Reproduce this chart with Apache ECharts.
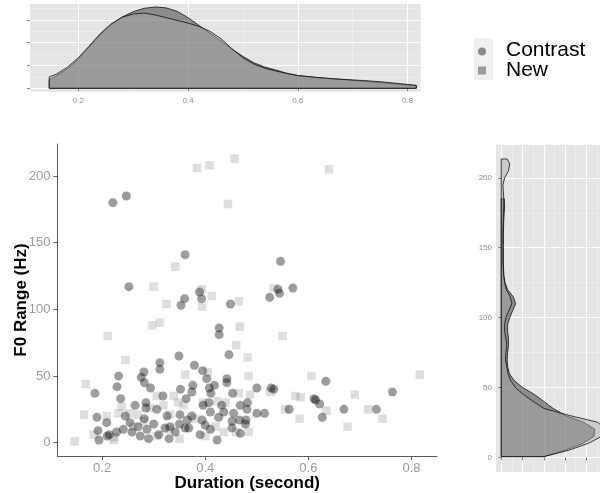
<!DOCTYPE html>
<html><head><meta charset="utf-8">
<script src="https://cdn.jsdelivr.net/npm/echarts@6/dist/echarts.min.js"></script>
<style>html,body{margin:0;padding:0;background:#fff}#c{width:600px;height:493px}</style>
</head><body><div id="c"></div>
<script>
// ---------- data ----------
const contrastPoints = [
 [0.221,180],[0.247,185],[0.361,141],[0.252,117],[0.360,108],[0.353,103],[0.389,113],[0.393,108],
 [0.449,104],[0.427,86],[0.427,81],[0.446,66],[0.349,65],[0.312,60],[0.379,58],[0.546,136],
 [0.541,115],[0.544,112],[0.570,116],[0.525,109],[0.186,37],[0.190,19],[0.192,9],[0.194,2],
 [0.209,15],[0.210,5],[0.229,42],[0.232,50],[0.236,33],[0.241,10],[0.264,28],[0.276,49],
 [0.281,53],[0.282,45],[0.294,41],[0.285,30],[0.285,26],[0.312,55],[0.318,35],[0.352,40],
 [0.363,33],[0.376,43],[0.395,54],[0.403,48],[0.408,41],[0.396,28],[0.411,37],[0.423,2],
 [0.442,48],[0.214,6],[0.228,8],[0.254,15],[0.258,8],[0.274,5],[0.287,10],[0.306,25],
 [0.326,20],[0.322,11],[0.332,12],[0.342,8],[0.351,21],[0.361,11],[0.365,17],[0.374,38],
 [0.418,43],[0.442,45],[0.453,37],[0.500,41],[0.528,41],[0.533,40],[0.563,25],[0.611,33],
 [0.407,30],[0.410,23],[0.436,23],[0.426,19],[0.455,22],[0.466,17],[0.479,17],[0.482,30],
 [0.481,25],[0.500,22],[0.515,22],[0.452,16],[0.452,11],[0.468,7],[0.478,14],[0.394,17],
 [0.410,10],[0.368,11],[0.374,20],[0.432,28],[0.634,46],[0.763,38],[0.614,32],[0.622,29],
 [0.669,25],[0.732,25],[0.627,19],[0.468,28],[0.282,18],[0.300,14],[0.270,12],[0.310,6],
 [0.330,3],[0.390,6],[0.400,13],[0.350,14],[0.290,3],[0.245,20]
];
const newPoints = [
 [0.457,213],[0.640,205],[0.444,179],[0.384,206],[0.408,208],[0.342,132],[0.300,117],[0.393,115],
 [0.413,110],[0.325,104],[0.394,102],[0.465,106],[0.312,90],[0.297,88],[0.211,80],[0.467,87],
 [0.460,73],[0.245,62],[0.482,64],[0.533,116],[0.550,80],[0.147,1],[0.168,44],[0.165,21],
 [0.361,51],[0.405,53],[0.184,6],[0.209,20],[0.224,4],[0.232,22],[0.238,27],[0.254,22],
 [0.306,35],[0.339,35],[0.319,28],[0.348,30],[0.293,26],[0.270,21],[0.332,21],[0.306,5],
 [0.222,2],[0.358,28],[0.280,16],[0.484,50],[0.487,36],[0.465,37],[0.575,35],[0.585,34],
 [0.555,25],[0.583,18],[0.606,50],[0.423,31],[0.484,8],[0.436,8],[0.816,51],[0.690,36],
 [0.716,25],[0.635,24],[0.744,18],[0.676,12],[0.526,38],[0.460,8],[0.400,5],[0.380,18],
 [0.350,3],[0.260,12],[0.440,30],[0.420,12],[0.330,10],[0.395,30]
];

// marginal density of duration (top panel)
const durGrid  = [0.147,0.16,0.18,0.20,0.22,0.24,0.26,0.28,0.30,0.32,0.34,0.36,0.38,0.40,0.42,0.44,0.46,0.48,0.50,0.52,0.54,0.56,0.58,0.60,0.63,0.66,0.69,0.72,0.75,0.78,0.816];
const durDensContrast = [0.38,0.55,0.85,1.28,1.82,2.35,2.80,3.13,3.36,3.51,3.57,3.53,3.38,3.10,2.76,2.42,2.08,1.72,1.40,1.12,0.93,0.80,0.66,0.56,0.48,0.42,0.37,0.31,0.25,0.19,0.11];
const durDensNew      = [0.50,0.62,0.92,1.34,1.86,2.40,2.83,3.12,3.26,3.30,3.22,3.10,2.98,2.86,2.72,2.50,2.18,1.74,1.34,1.06,0.88,0.76,0.65,0.56,0.49,0.43,0.38,0.34,0.29,0.22,0.13];

// marginal density of F0 range (right panel)
const f0GridContrast = [0.5,5,10,15,20,25,30,35,40,45,50,55,60,65,70,75,80,85,90,95,100,105,110,115,120,125,130,140,150,160,170,180,185];
const f0DensContrast = [0.0100,0.0150,0.0192,0.0218,0.0220,0.0195,0.0150,0.0122,0.0100,0.0078,0.0050,0.0030,0.0019,0.0015,0.0014,0.0015,0.0017,0.0017,0.0015,0.0015,0.0020,0.0027,0.0034,0.0028,0.0015,0.0009,0.0006,0.0005,0.0005,0.0005,0.0006,0.0008,0.0007];
const f0GridNew = [0.5,5,10,15,20,25,30,35,40,45,50,55,60,65,70,75,80,85,90,95,100,105,110,115,120,125,130,140,150,160,170,180,185,190,195,200,205,210,213.5];
const f0DensNew = [0.0100,0.0158,0.0205,0.0236,0.0244,0.0228,0.0160,0.0100,0.0075,0.0052,0.0033,0.0022,0.0016,0.0013,0.0010,0.0011,0.0013,0.0011,0.0008,0.0008,0.0011,0.0018,0.0025,0.0021,0.0012,0.0008,0.0006,0.0004,0.0004,0.0004,0.0005,0.0006,0.0006,0.0005,0.0004,0.0008,0.0017,0.0020,0.0014];

// ticks / grid positions
const durTicks = [0.2,0.4,0.6,0.8];
const durMinor = [0.3,0.5,0.7];
const durDensTicks = [0,1,2,3];
const durDensMinor = [0.5,1.5,2.5,3.5];
const f0Ticks = [0,50,100,150,200];
const f0Minor = [25,75,125,175];
const f0DensTicks = [0,0.005,0.01,0.015,0.02];
const f0DensMinor = [0.0025,0.0075,0.0125,0.0175,0.0225];
const groupNames = ['Contrast','New'];

// ---------- chart ----------
const FONT = 'Liberation Sans, Arial, Helvetica, sans-serif';
const PANEL_BG = '#e5e5e5';
const FILL_C = 'rgba(51,51,51,0.5)';
const FILL_N = 'rgba(170,170,170,0.45)';

function polySeries(name, xi, yi, pts, fill) {
  return {
    type: 'custom', name: name, xAxisIndex: xi, yAxisIndex: yi,
    data: pts, encode: {x: 0, y: 1}, silent: true, animation: false,
    renderItem: function (params, api) {
      if (params.dataIndex !== 0) return null;
      return {
        type: 'polygon',
        shape: {points: pts.map(function (p) { return api.coord(p); })},
        style: {fill: fill, stroke: '#111', lineWidth: 0.8}
      };
    }
  };
}
function topPoly(dens) {
  const pts = [[durGrid[0], 0]];
  durGrid.forEach(function (x, i) { pts.push([x, dens[i]]); });
  pts.push([durGrid[durGrid.length - 1], 0]);
  return pts;
}
function rightPoly(grid, dens) {
  const pts = [[0, grid[0]]];
  grid.forEach(function (f, i) { pts.push([dens[i], f]); });
  pts.push([0, grid[grid.length - 1]]);
  return pts;
}
function valAxis(o) {
  return Object.assign({
    type: 'value', scale: true,
    axisLine: {show: false},
    axisTick: {show: true, length: 3, lineStyle: {color: '#7f7f7f', width: 1}},
    axisLabel: {show: false},
    splitLine: {show: true, lineStyle: {color: '#ffffff', width: 1}},
    minorTick: {show: false}, minorSplitLine: {show: false}
  }, o);
}
function minorAxis(o) {
  return Object.assign({
    type: 'value', scale: true,
    axisLine: {show: false}, axisLabel: {show: false},
    axisTick: {show: false},
    splitLine: {show: true, lineStyle: {color: '#f2f2f2', width: 0.6}}
  }, o);
}

const chart = echarts.init(document.getElementById('c'), null, {renderer: 'canvas'});
chart.setOption({
  animation: false,
  backgroundColor: '#ffffff',
  textStyle: {fontFamily: FONT},
  grid: [
    {left: 30, top: 4, width: 390.7, height: 87.7, show: true, backgroundColor: PANEL_BG, borderWidth: 0, containLabel: false, outerBoundsMode: 'none'},
    {left: 57.5, top: 144, width: 379.5, height: 312, show: false, containLabel: false, outerBoundsMode: 'none'},
    {left: 496, top: 145, width: 110, height: 327, show: true, backgroundColor: PANEL_BG, borderWidth: 0, containLabel: false, outerBoundsMode: 'none'}
  ],
  xAxis: [
    valAxis({gridIndex: 0, position: 'bottom', min: 0.112, max: 0.824,
      axisTick: {show: true, length: 3, customValues: durTicks, lineStyle: {color: '#7f7f7f'}},
      axisLabel: {show: true, customValues: durTicks, fontSize: 8, color: '#8a8a8a', margin: 5}}),
    minorAxis({gridIndex: 0, position: 'top', min: 0.112, max: 0.824,
      axisTick: {show: false, customValues: durMinor}}),
    {type: 'value', gridIndex: 1, position: 'bottom', min: 0.1135, max: 0.8495,
      axisLine: {show: true, onZero: false, lineStyle: {color: '#5a5a5a', width: 1}},
      axisTick: {show: true, length: 4, customValues: durTicks, lineStyle: {color: '#5a5a5a'}},
      axisLabel: {show: true, customValues: durTicks, fontSize: 13, color: '#9a9a9a', margin: 6},
      splitLine: {show: false},
      name: 'Duration (second)', nameLocation: 'middle', nameGap: 19, nameMoveOverlap: false,
      nameTextStyle: {fontSize: 17, fontWeight: 'bold', color: '#000'}},
    valAxis({gridIndex: 2, position: 'bottom', min: -0.00123, max: 0.02463, offset: 7,
      axisTick: {show: true, length: 3, customValues: f0DensTicks, lineStyle: {color: '#7f7f7f'}}}),
    minorAxis({gridIndex: 2, position: 'top', min: -0.00123, max: 0.02463,
      axisTick: {show: false, customValues: f0DensMinor}})
  ],
  yAxis: [
    valAxis({gridIndex: 0, position: 'left', min: -0.15, max: 3.70,
      axisTick: {show: true, length: 3, customValues: durDensTicks, lineStyle: {color: '#7f7f7f'}}}),
    minorAxis({gridIndex: 0, position: 'right', min: -0.15, max: 3.70,
      axisTick: {show: false, customValues: durDensMinor}}),
    {type: 'value', gridIndex: 1, position: 'left', min: -10, max: 224,
      axisLine: {show: true, onZero: false, lineStyle: {color: '#5a5a5a', width: 1}},
      axisTick: {show: true, length: 4, customValues: f0Ticks, lineStyle: {color: '#5a5a5a'}},
      axisLabel: {show: true, customValues: f0Ticks, fontSize: 13, color: '#9a9a9a', margin: 7},
      splitLine: {show: false},
      name: 'F0 Range (Hz)', nameLocation: 'middle', nameGap: 28, nameRotate: 90, nameMoveOverlap: false,
      nameTextStyle: {fontSize: 17, fontWeight: 'bold', color: '#000'}},
    valAxis({gridIndex: 2, position: 'left', min: -10.5, max: 223.5,
      axisTick: {show: true, length: 3, customValues: f0Ticks, lineStyle: {color: '#7f7f7f'}},
      axisLabel: {show: true, customValues: f0Ticks, fontSize: 8, color: '#8a8a8a', margin: 4}}),
    minorAxis({gridIndex: 2, position: 'right', min: -10.5, max: 223.5,
      axisTick: {show: false, customValues: f0Minor}})
  ],
  graphic: [
    {type: 'rect', x: 474, y: 38, shape: {width: 19, height: 42}, style: {fill: '#f0f0f0'}, silent: true},
    {type: 'circle', x: 482, y: 51.5, shape: {cx: 0, cy: 0, r: 4}, style: {fill: '#8a8a8a'}, silent: true},
    {type: 'rect', x: 478, y: 66.5, shape: {width: 8, height: 8}, style: {fill: '#9c9c9c'}, silent: true},
    {type: 'text', x: 506, y: 50.5, silent: true,
      style: {text: groupNames[0], fontSize: 21, fontFamily: FONT, fill: '#000', verticalAlign: 'middle', align: 'left'}},
    {type: 'text', x: 506, y: 70, silent: true,
      style: {text: groupNames[1], fontSize: 21, fontFamily: FONT, fill: '#000', verticalAlign: 'middle', align: 'left'}}
  ],
  series: [
    polySeries('Contrast density', 0, 0, topPoly(durDensContrast), FILL_C),
    polySeries('New density', 0, 0, topPoly(durDensNew), FILL_N),
    {type: 'scatter', name: groupNames[1], xAxisIndex: 2, yAxisIndex: 2, data: newPoints,
      symbol: 'rect', symbolSize: 8.5, itemStyle: {color: 'rgba(128,128,128,0.32)'}, animation: false},
    {type: 'scatter', name: groupNames[0], xAxisIndex: 2, yAxisIndex: 2, data: contrastPoints,
      symbol: 'circle', symbolSize: 9, itemStyle: {color: 'rgba(0,0,0,0.48)'}, animation: false},
    polySeries('Contrast f0 density', 3, 3, rightPoly(f0GridContrast, f0DensContrast), FILL_C),
    polySeries('New f0 density', 3, 3, rightPoly(f0GridNew, f0DensNew), FILL_N)
  ]
});
</script>
</body></html>
